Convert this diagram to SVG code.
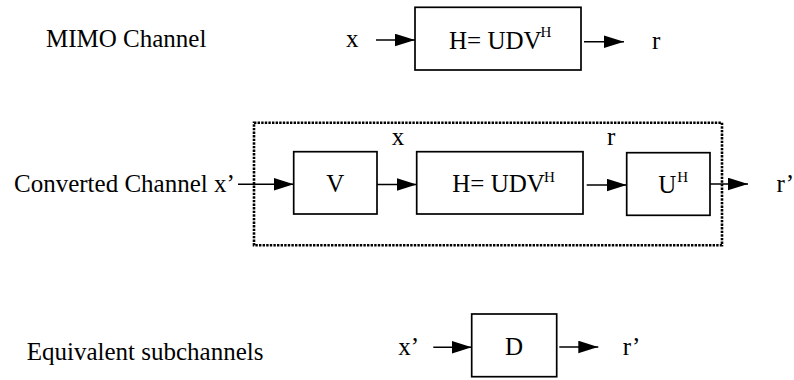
<svg xmlns="http://www.w3.org/2000/svg" width="794" height="380" viewBox="0 0 794 380" font-family="'Liberation Serif', 'Times New Roman', Times, serif" font-size="25">
<style>
.sup{font-size:15px}
.box{fill:#fff;stroke:#000;stroke-width:1.7}
.dot{fill:none;stroke:#000;stroke-width:2.6;stroke-dasharray:2.4 1.2}
.conn line{stroke:#000;stroke-width:1.4;marker-end:url(#ah)}
</style>
<defs>
<marker id="ah" markerUnits="userSpaceOnUse" markerWidth="20" markerHeight="13" refX="20" refY="6.3" orient="auto">
<path d="M0,0 L20,6.3 L0,12.6 z" fill="#000"/>
</marker>
</defs>
<rect width="794" height="380" fill="#fff"/>
<g id="labels">
<text x="46" y="46.5">MIMO Channel</text>
<text x="346" y="46.5">x</text>
<text x="652" y="49">r</text>
<text x="14" y="191.7">Converted Channel x’</text>
<text x="391.7" y="145">x</text>
<text x="607" y="145">r</text>
<text x="776.5" y="191.7">r’</text>
<text x="26.7" y="360">Equivalent subchannels</text>
<text x="398.3" y="355">x’</text>
<text x="622.7" y="355">r’</text>
</g>
<g id="converted-group">
<rect class="dot" x="254" y="122.7" width="468" height="122.6"/>
</g>
<g id="node-H-top">
<rect class="box" x="415" y="7.3" width="166" height="62.7"/>
<text x="449" y="49.3">H= UDV<tspan class="sup" dx="-1" dy="-12">H</tspan></text>
</g>
<g id="node-V">
<rect class="box" x="293.7" y="151.7" width="83.3" height="62.3"/>
<text x="335.3" y="191.7" text-anchor="middle">V</text>
</g>
<g id="node-H-mid">
<rect class="box" x="416.7" y="151.7" width="166.3" height="62.3"/>
<text x="452.3" y="191.7">H= UDV<tspan class="sup" dx="-1" dy="-10">H</tspan></text>
</g>
<g id="node-UH">
<rect class="box" x="626.7" y="152.7" width="83.3" height="62.6"/>
<text x="658.3" y="193.3">U<tspan class="sup" dx="1" dy="-11.6">H</tspan></text>
</g>
<g id="node-D">
<rect class="box" x="471.7" y="314" width="85" height="62.7"/>
<text x="514" y="355" text-anchor="middle">D</text>
</g>
<g id="connectors" class="conn">
<line x1="376" y1="40" x2="415" y2="40"/>
<line x1="584" y1="41.7" x2="624" y2="41.7"/>
<line x1="238" y1="184.3" x2="293.7" y2="184.3"/>
<line x1="377" y1="184.5" x2="416.7" y2="184.5"/>
<line x1="586.7" y1="185" x2="626.7" y2="185"/>
<line x1="710" y1="184" x2="748" y2="184"/>
<line x1="433.3" y1="347.3" x2="471.7" y2="347.3"/>
<line x1="559.3" y1="347" x2="598.3" y2="347"/>
</g>
</svg>
